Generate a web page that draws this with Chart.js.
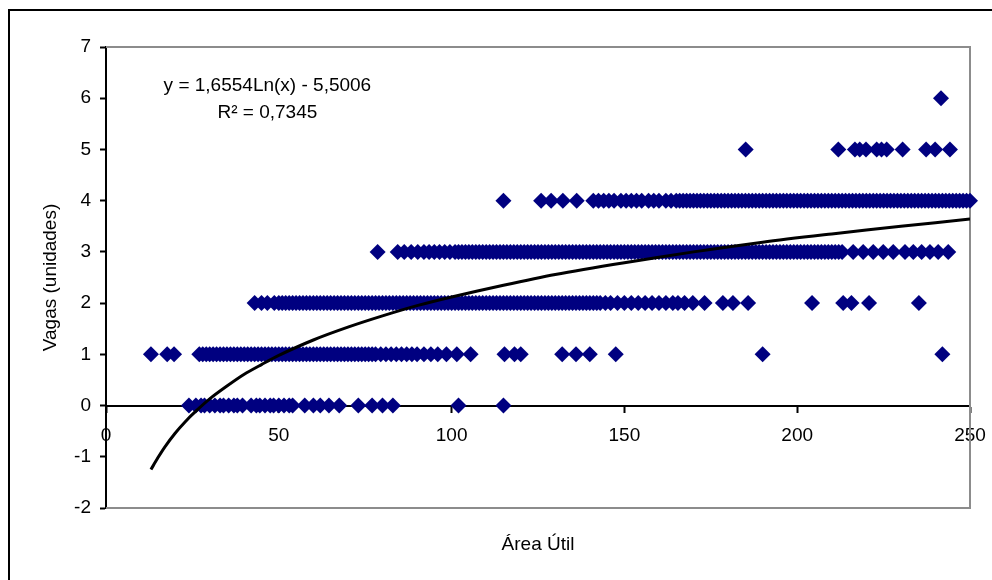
<!DOCTYPE html>
<html>
<head>
<meta charset="utf-8">
<title>Vagas x Área Útil</title>
<script src="https://cdn.jsdelivr.net/npm/chart.js@4.4.1/dist/chart.umd.min.js"></script>
<style>
  html, body { margin: 0; padding: 0; background: #fff; }
  canvas { display: block; }
</style>
</head>
<body>
<canvas id="chart" width="992" height="580"></canvas>
<script>
// area values (m2) for each number of parking spaces
const area0 = [24, 26, 27.5, 28.5, 30, 31.5, 33, 34, 35.5, 37, 38, 39.5, 42, 43.5, 44.5, 46, 47.5,
  48.5, 50, 51.5, 53, 54, 57.5, 60, 62, 64.5, 67.5, 73, 77, 80, 83, 102, 115];

const area1 = [13, 17.7, 19.7, 27, 28, 29, 30, 31, 32, 33, 34, 35, 36, 37, 38, 39, 40, 41, 42, 43,
  44, 45, 46, 47, 48, 49, 50, 51, 52, 53, 54, 55, 56, 57, 58, 59, 60, 61, 62, 63, 64, 65, 66, 67,
  68, 69, 70, 71, 72, 73, 74, 75, 76, 77, 78, 79.5, 81, 82.5, 84, 85.5, 87, 88.5, 90, 92, 94, 96,
  98.5, 101.5, 105.5, 115.3, 118.2, 120, 132, 136, 140, 147.5, 190, 242];

const area2 = [43, 45, 46.7, 48.7, 50, 51, 52, 53, 54, 55, 56, 57, 58, 59, 60, 61, 62, 63, 64, 65,
  66, 67, 68, 69, 70, 71, 72, 73, 74, 75, 76, 77, 78, 79, 80, 81, 82, 83, 84, 85, 86, 87, 88, 89,
  90, 91, 92, 93, 94, 95, 96, 97, 98, 99, 100, 101, 102, 103, 104, 105, 106, 107, 108, 109, 110,
  111, 112, 113, 114, 115, 116, 117, 118, 119, 120, 121, 122, 123, 124, 125, 126, 127, 128, 129,
  130, 131, 132, 133, 134, 135, 136, 137, 138, 139, 140, 141, 142, 143, 144.5, 146, 148, 150, 152,
  154, 156, 158, 160, 162, 164, 165.5, 167.4, 169.8, 173.2, 178.5, 181.4, 185.8, 204.3, 213.3,
  215.7, 220.8, 235.2];

const area3 = [78.6, 84.4, 86.3, 88.3, 90.2, 92, 93.5, 95, 96.5, 98, 99.5, 101, 102, 103, 104, 105,
  106, 107, 108, 109, 110, 111, 112, 113, 114, 115, 116, 117, 118, 119, 120, 121, 122, 123, 124,
  125, 126, 127, 128, 129, 130, 131, 132, 133, 134, 135, 136, 137, 138, 139, 140, 141, 142, 143,
  144, 145, 146, 147, 148, 149, 150, 151, 152, 153, 154, 155, 156, 157, 158, 159, 160, 161, 162,
  163, 164, 165, 166, 167, 168, 169, 170, 171, 172, 173, 174, 175, 176, 177, 178, 179, 180, 181,
  182, 183, 184, 185, 186, 187, 188, 189, 190, 191, 192, 193, 194, 195, 196, 197, 198, 199, 200,
  201, 202, 203, 204, 205, 206, 207, 208, 209, 210, 211, 212, 213, 216.2, 219.1, 222, 224.9, 227.8,
  231.2, 233.6, 236, 238.4, 240.8, 243.7];

const area4 = [115, 125.9, 128.8, 132.2, 136.2, 141, 142.5, 144, 145.5, 147, 149, 150.5, 152, 153.5,
  155, 157, 158.5, 160, 162, 163.5, 165, 166, 167, 168, 169, 170, 171, 172, 173, 174, 175, 176,
  177, 178, 179, 180, 181, 182, 183, 184, 185, 186, 187, 188, 189, 190, 191, 192, 193, 194, 195,
  196, 197, 198, 199, 200, 201, 202, 203, 204, 205, 206, 207, 208, 209, 210, 211, 212, 213, 214,
  215, 216, 217, 218, 219, 220, 221, 222, 223, 224, 225, 226, 227, 228, 229, 230, 231, 232, 233,
  234, 235, 236, 237, 238, 239, 240, 241, 242, 243, 244, 245, 246, 247, 248, 249, 250];

const area5 = [185.1, 211.9, 216.7, 218.1, 219.9, 223, 224.4, 225.9, 230.5, 237.3, 239.9, 244.2];
const area6 = [241.6];

// logarithmic trend line
const trendX = [13, 15, 17, 20, 23, 26, 30, 35, 40, 45, 50, 60, 70, 80, 90, 100, 115, 130, 150,
  170, 190, 210, 230, 250];
const trendY = [-1.25, -1.02, -0.81, -0.54, -0.31, -0.11, 0.13, 0.38, 0.61, 0.80, 0.98, 1.28, 1.53,
  1.75, 1.95, 2.12, 2.35, 2.56, 2.79, 3.00, 3.19, 3.35, 3.50, 3.64];

const xTicks = [0, 50, 100, 150, 200, 250];
const yTicks = [-2, -1, 0, 1, 2, 3, 4, 5, 6, 7];

const equationText = "y = 1,6554Ln(x) - 5,5006";
const r2Text = "R² = 0,7345";
const xTitle = "Área Útil";
const yTitle = "Vagas (unidades)";

const rows = [area0, area1, area2, area3, area4, area5, area6];
const points = [];
rows.forEach((row, vagas) => {
  row.forEach((a) => points.push({ x: a, y: vagas }));
});
const trend = trendX.map((x, i) => ({ x: x, y: trendY[i] }));

Chart.defaults.font.family = "'Liberation Sans', Arial, sans-serif";
Chart.defaults.color = "#000";

// frame, plot border and free text
const decorations = {
  id: "decorations",
  beforeDraw(chart) {
    const c = chart.ctx;
    c.save();
    c.strokeStyle = "#000";
    c.lineWidth = 2;
    c.beginPath();
    c.moveTo(9, 600);
    c.lineTo(9, 10);
    c.lineTo(1000, 10);
    c.stroke();
    c.restore();
  },
  beforeDatasetsDraw(chart) {
    const c = chart.ctx;
    const a = chart.chartArea;
    c.save();
    c.strokeStyle = "#8c8c8c";
    c.lineWidth = 2;
    c.beginPath();
    c.moveTo(a.left, a.top);
    c.lineTo(a.right, a.top);
    c.lineTo(a.right, a.bottom);
    c.lineTo(a.left, a.bottom);
    c.stroke();
    c.restore();
  },
  afterDraw(chart) {
    const c = chart.ctx;
    const a = chart.chartArea;
    const sx = chart.scales.x;
    const sy = chart.scales.y;
    c.save();
    c.fillStyle = "#000";
    c.font = "19px 'Liberation Sans', Arial, sans-serif";
    c.textAlign = "center";
    c.textBaseline = "middle";
    c.fillText(equationText, sx.getPixelForValue(46.7), sy.getPixelForValue(6.24));
    c.fillText(r2Text, sx.getPixelForValue(46.7), sy.getPixelForValue(5.71));
    c.fillText(xTitle, (a.left + a.right) / 2, a.bottom + 37);
    c.restore();
  },
};

const ctx = document.getElementById("chart").getContext("2d");
new Chart(ctx, {
  type: "scatter",
  data: {
    datasets: [
      {
        type: "line",
        label: "Log",
        data: trend,
        borderColor: "#000",
        borderWidth: 3,
        pointRadius: 0,
        tension: 0.3,
        fill: false,
      },
      {
        label: "Vagas",
        data: points,
        pointStyle: "rectRot",
        pointRadius: 8,
        backgroundColor: "#000080",
        borderColor: "#000080",
        borderWidth: 0,
        clip: 10,
      },
    ],
  },
  options: {
    responsive: false,
    animation: false,
    layout: { padding: { left: 0, top: 47, right: 22, bottom: 72 } },
    plugins: { legend: { display: false }, tooltip: { enabled: false } },
    scales: {
      x: {
        type: "linear",
        min: 0,
        max: 250,
        position: { y: 0 },
        afterBuildTicks: (s) => { s.ticks = xTicks.map((v) => ({ value: v })); },
        afterFit: (s) => { s.paddingLeft = 0; s.paddingRight = 0; },
        ticks: { font: { size: 19 }, color: "#000", padding: 13, maxRotation: 0 },
        grid: { drawOnChartArea: false, tickLength: 6, tickColor: "#000", tickWidth: 2 },
        border: { color: "#000", width: 2 },
      },
      y: {
        type: "linear",
        min: -2,
        max: 7,
        afterBuildTicks: (s) => { s.ticks = yTicks.map((v) => ({ value: v })); },
        afterFit: (s) => { s.width = 106; },
        ticks: { font: { size: 19 }, color: "#000", padding: 9 },
        grid: { drawOnChartArea: false, tickLength: 6, tickColor: "#000", tickWidth: 2 },
        border: { color: "#000", width: 2 },
        title: { display: true, text: yTitle, font: { size: 19 }, color: "#000", padding: { top: 39, bottom: 0 } },
      },
    },
  },
  plugins: [decorations],
});
</script>
</body>
</html>
